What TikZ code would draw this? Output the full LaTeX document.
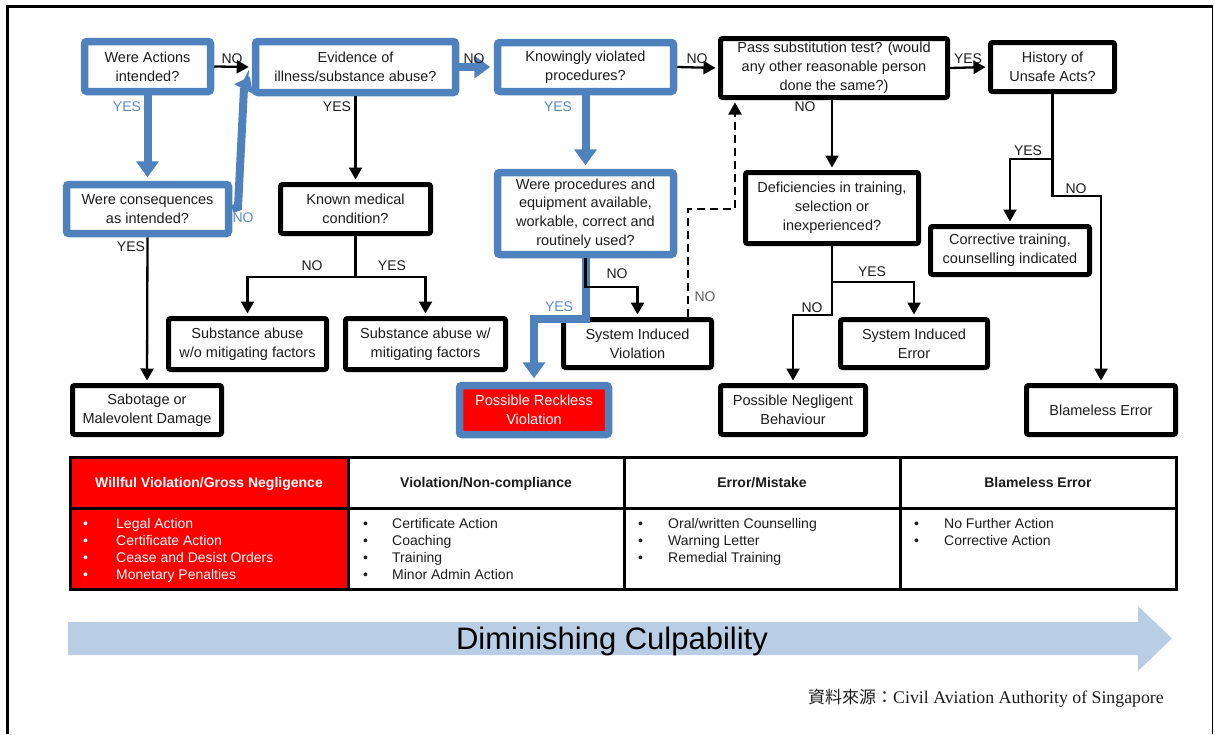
\documentclass[tikz,border=0pt]{standalone}
\usepackage{fontspec}
\setmainfont{Liberation Sans}
\newfontfamily\srcserif{Liberation Serif}
\newfontfamily\cjk{Noto Sans CJK TC}
\usetikzlibrary{arrows.meta,calc}
\definecolor{ublue}{RGB}{79,129,189}
\definecolor{ylbl}{RGB}{88,139,204}
\definecolor{bandfill}{RGB}{185,205,229}
\definecolor{ink}{RGB}{28,28,28}
\definecolor{dashlbl}{RGB}{95,95,95}
\begin{document}
\begin{tikzpicture}[x=1pt,y=-1pt,
  boxtext/.style={align=center, inner sep=0pt, text=ink,
    font=\fontsize{14.5}{18.8}\selectfont},
  bbox/.style={boxtext, draw=black, line width=5pt, fill=white, rounded corners=2pt},
  ubox/.style={boxtext, draw=ublue, line width=7.5pt, fill=white, rounded corners=2.5pt},
  conn/.style={draw=black, line width=2.3pt, line join=miter,
    -{Triangle[length=12pt,width=13pt]}},
  uconn/.style={draw=ublue, line width=8pt, line join=miter,
    -{Triangle[length=16pt,width=22pt]}},
  dconn/.style={draw=black, line width=2pt, dash pattern=on 8pt off 5pt,
    -{Triangle[length=12pt,width=13pt]}},
  lbl/.style={inner sep=0pt, text=ink, font=\fontsize{14}{16}\selectfont},
  ulbl/.style={lbl, text=ylbl},
  hdr/.style={anchor=base, inner sep=0pt, text=ink, font=\fontsize{14}{17}\bfseries},
  item/.style={anchor=base west, inner sep=0pt, text=ink, font=\fontsize{14}{17}\selectfont},
]
\useasboundingbox (0,0) rectangle (1215,734);

% page frame
\draw[line width=3pt] (7.5,734) -- (7.5,6.5) -- (1213,6.5);
\draw[line width=1.2pt] (1212.5,6.5) -- (1212.5,734);

% ---------- decision boxes ----------
\node[ubox, minimum width=126pt, minimum height=50pt] (act)  at (147.5,66.5) {Were Actions\\intended?};
\node[ubox, minimum width=200pt, minimum height=51pt] (evid) at (355.5,67) {Evidence of\\illness/substance abuse?};
\node[ubox, minimum width=176pt, minimum height=49pt] (know) at (585.5,67) {Knowingly violated\\procedures?};
\node[bbox, minimum width=227pt, minimum height=59pt] (pass) at (834,68) {Pass substitution test? (would\\any other reasonable person\\done the same?)};
\node[bbox, minimum width=124pt, minimum height=49pt] (hist) at (1052.5,67) {History of\\Unsafe Acts?};

\node[ubox, minimum width=162pt, minimum height=49pt] (cons) at (147.5,209) {Were consequences\\as intended?};
\node[bbox, minimum width=150pt, minimum height=49pt] (med)  at (355.5,209) {Known medical\\condition?};
\node[ubox, minimum width=176pt, minimum height=82pt] (proc) at (585.5,213.5) {Were procedures and\\equipment available,\\workable, correct and\\routinely used?};
\node[bbox, minimum width=173pt, minimum height=71pt] (def)  at (832,208) {Deficiencies in training,\\selection or\\inexperienced?};
\node[bbox, minimum width=159pt, minimum height=48pt] (corr) at (1010,250.5) {Corrective training,\\counselling indicated};

% ---------- outcome boxes ----------
\node[bbox, minimum width=158pt, minimum height=51pt] (sa1) at (247.5,344) {Substance abuse\\w/o mitigating factors};
\node[bbox, minimum width=160pt, minimum height=51pt] (sa2) at (425.5,344) {Substance abuse w/\\mitigating factors};
\node[bbox, minimum width=148pt, minimum height=48pt] (siv) at (637.5,343.5) {System Induced\\Violation};
\node[bbox, minimum width=147pt, minimum height=48pt] (sie) at (914,343.5) {System Induced\\Error};
\node[bbox, minimum width=149pt, minimum height=49pt] (sab) at (147,410) {Sabotage or\\Malevolent Damage};
\node[ubox, fill=red, text=white, minimum width=149pt, minimum height=49pt] (reck) at (534,410) {Possible Reckless\\Violation};
\node[bbox, minimum width=145pt, minimum height=49pt] (neg) at (793,410) {Possible Negligent\\Behaviour};
\node[bbox, minimum width=149pt, minimum height=49pt] (blm) at (1101,410) {Blameless Error};

% ---------- routing points ----------
\coordinate (cA) at (238,207);
\coordinate (cB) at (244,88);
\coordinate (mj) at (355.5,277);
\coordinate (pj) at (585.5,287);
\coordinate (rj) at (585.5,318.5);
\coordinate (dA) at (688,209);
\coordinate (dB) at (735,209);
\coordinate (fj) at (832,282);
\coordinate (fk) at (832,315);
\coordinate (hj) at (1052.5,159);
\coordinate (hk) at (1052.5,196);

% ---------- blue (selected) connectors ----------
\draw[uconn, shorten >=3.5pt] (act.south) -- (cons.north);
\draw[uconn, -{Triangle[length=14pt,width=20pt]}, shorten >=4pt]
  (cons.east) -- (cA) -- (cB) -- ($(evid.west)+(0,6)$);
\draw[uconn, shorten >=3.5pt] (evid.east) -- (know.west);
\draw[uconn, shorten >=3.5pt] (know.south) -- (proc.north);
\draw[uconn, shorten >=3.5pt] (proc.south) -- (rj) -| (reck.north);

% ---------- black connectors ----------
\draw[conn, shorten >=3pt] (act.east) -- (evid.west);
\draw[conn, shorten >=2.5pt] (cons.south) -- (sab.north);
\draw[conn, shorten >=2.5pt] (evid.south) -- (med.north);
\draw[conn, shorten >=2.5pt] (med.south) -- (mj) -| (sa1.north);
\draw[conn, shorten >=2.5pt] (mj) -| (sa2.north);
\draw[conn, shorten >=2.5pt] (know.east) -- (pass.west);
\draw[conn, shorten >=2.5pt] (proc.south) -- (pj) -| (siv.north);
\draw[dconn, shorten >=2.5pt] (dA |- siv.north) -- (dA) -- (dB) -- (dB |- pass.south);
\draw[conn, shorten >=2.5pt] (def.north |- pass.south) -- (def.north);
\draw[conn, shorten >=2.5pt] (pass.east) -- (hist.west);
\draw[conn, shorten >=2.5pt] (def.south) -- (fj) -| (sie.north);
\draw[conn, shorten >=2.5pt] (fj) -- (fk) -| (neg.north);
\draw[conn, shorten >=2.5pt] (hist.south) -- (hj) -| (corr.north);
\draw[conn, shorten >=2.5pt] (hj) -- (hk) -| (blm.north);

% ---------- branch labels ----------
\node[lbl]  (l1)  at (232,59)   {NO};
\node[ulbl] (l2)  at (127,107)  {YES};
\node[ulbl] (l3)  at (243,218)  {NO};
\node[lbl]  (l4)  at (131,247)  {YES};
\node[lbl]  (l5)  at (474,59)   {NO};
\node[lbl]  (l6)  at (337,107)  {YES};
\node[lbl]  (l7)  at (312,266)  {NO};
\node[lbl]  (l8)  at (392,266)  {YES};
\node[lbl]  (l9)  at (697,59)   {NO};
\node[ulbl] (l10) at (558,107)  {YES};
\node[lbl]  (l11) at (617,274)  {NO};
\node[ulbl] (l12) at (559,307)  {YES};
\node[lbl, text=dashlbl] (l13) at (705,297) {NO};
\node[lbl]  (l14) at (805,107)  {NO};
\node[lbl]  (l15) at (968,59)   {YES};
\node[lbl]  (l16) at (872,272)  {YES};
\node[lbl]  (l17) at (812,308)  {NO};
\node[lbl]  (l18) at (1028,151) {YES};
\node[lbl]  (l19) at (1076,189) {NO};

% ---------- culpability table ----------
\fill[red] (70,457) rectangle (348,589);
\draw[line width=3pt] (70,457) rectangle (1176,589);
\draw[line width=3pt] (70,508) -- (1176,508);
\foreach \x in {348,624,900} \draw[line width=3pt] (\x,457) -- (\x,589);

\node[hdr, text=white] (h1) at (209,487)  {Willful Violation/Gross Negligence};
\node[hdr] (h2) at (486,487)  {Violation/Non-compliance};
\node[hdr] (h3) at (762,487)  {Error/Mistake};
\node[hdr] (h4) at (1038,487) {Blameless Error};

\foreach \t [count=\i] in {Legal Action, Certificate Action, Cease and Desist Orders, Monetary Penalties}
  \node[item, text=white] (a\i) at (83,511+17*\i) {\makebox[33pt][l]{•}\t};
\foreach \t [count=\i] in {Certificate Action, Coaching, Training, Minor Admin Action}
  \node[item] (b\i) at (363,511+17*\i) {\makebox[29pt][l]{•}\t};
\foreach \t [count=\i] in {Oral/written Counselling, Warning Letter, Remedial Training}
  \node[item] (c\i) at (638,511+17*\i) {\makebox[30pt][l]{•}\t};
\foreach \t [count=\i] in {No Further Action, Corrective Action}
  \node[item] (e\i) at (914,511+17*\i) {\makebox[30pt][l]{•}\t};

% ---------- culpability band ----------
\fill[bandfill] (68,622) -- (1138,622) -- (1138,606) -- (1172,638.5)
  -- (1138,671) -- (1138,655) -- (68,655) -- cycle;
\node[anchor=base, inner sep=0pt, font=\fontsize{31}{36}\selectfont] (band) at (612,649) {Diminishing Culpability};

% source line
\node[anchor=base east, inner sep=0pt, text=ink] (src) at (1164,703)
  {{\cjk\fontsize{17}{20}\selectfont 資料來源：}{\srcserif\fontsize{17.8}{21}\selectfont Civil Aviation Authority of Singapore}};
\end{tikzpicture}
\end{document}
